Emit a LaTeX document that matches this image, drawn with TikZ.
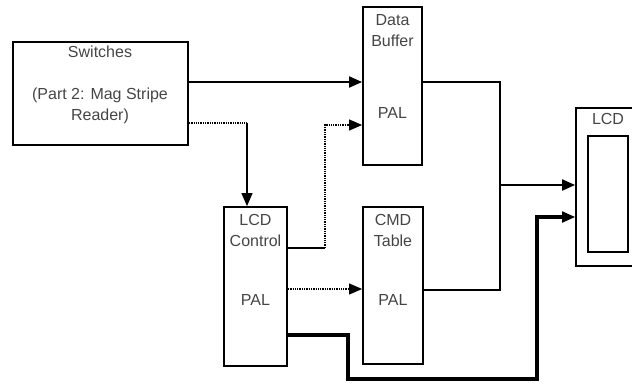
\documentclass[tikz,border=0pt]{standalone}
\usepackage{fontspec}
\setmainfont{Liberation Sans}
\usetikzlibrary{arrows.meta,calc}
\definecolor{txt}{HTML}{454545}
\begin{document}
\begin{tikzpicture}[x=1pt,y=-1pt,
  blk/.style={draw,line width=1.8pt,inner sep=0pt,minimum width=#1},
  lbl/.style={text=txt,font=\fontsize{16}{21}\selectfont,align=center,inner sep=0pt},
  tip/.style={-{Triangle[length=13pt,width=11pt]}},
  midline/.style={line width=2pt},
  thinline/.style={line width=1.1pt},
  dotline/.style={line width=1.3pt,densely dotted},
  heavy/.style={line width=4pt}]
\useasboundingbox (0,0) rectangle (632,383);
\clip (0,0) rectangle (632,383);
% boxes
\node[blk=175pt,minimum height=103pt] (sw) at (100.5,93.5) {};
\node[blk=59pt,minimum height=158pt] (db) at (392.5,86) {};
\node[blk=63pt,minimum height=159pt] (lc) at (255.5,286.5) {};
\node[blk=60pt,minimum height=157pt] (ct) at (393,285.5) {};
\node[blk=69pt,minimum height=158pt] (lcd) at (610.5,187) {};
\node[blk=40pt,minimum height=116pt] (lcdin) at (608,194) {};
% texts
\node[lbl] (swt) at (100,85) {Switches\\[21pt](Part 2: Mag Stripe\\Reader)};
\node[lbl] (dbt) at (392.5,31) {Data\\Buffer};
\node[lbl] (dbp) at (392.5,113) {PAL};
\node[lbl] (lct) at (255.5,230) {LCD\\Control};
\node[lbl] (lcp) at (255.5,300) {PAL};
\node[lbl] (ctt) at (393,230) {CMD\\Table};
\node[lbl] (ctp) at (393,300) {PAL};
\node[lbl] (lcdt) at (608,119) {LCD};
% coordinates
\coordinate (p1) at ([yshift=11.5pt]sw.east);
\coordinate (p2) at ([yshift=-29.5pt]sw.east);
\coordinate (p3) at ([xshift=-8.5pt]lc.north);
\coordinate (q1) at ([yshift=38.5pt]lc.east);
\coordinate (q2) at (325,248);
\coordinate (q3) at ([yshift=-39pt]db.west);
\coordinate (r1) at ([yshift=-2.5pt]lc.east);
\coordinate (s1) at ([yshift=-48.5pt]lc.east);
\coordinate (s2) at (348,335);
\coordinate (s3) at (348,379);
\coordinate (s4) at (537,379);
\coordinate (s5) at ([yshift=-30pt]lcd.west);
\coordinate (t1) at ([yshift=4pt]db.east);
\coordinate (t2) at (500,82);
\coordinate (t3) at ([yshift=-4.5pt]ct.east);
\coordinate (t4) at (500,185);
\coordinate (t5) at ([yshift=2pt]lcd.west);
% connectors
\draw[midline,tip] (p1) -- (p1 -| db.west);
\draw[dotline] (p2) -- (p2 -| p3);
\draw[thinline,tip] (p2 -| p3) -- (p3);
\draw[thinline] (q1) -- (q2);
\draw[dotline] (q2) -- (q2 |- q3) -- ([xshift=-10pt]q3);
\draw[thinline,tip] ([xshift=-14pt]q3) -- (q3);
\draw[dotline] (r1) -- ([xshift=-10pt]r1 -| ct.west);
\draw[thinline,tip] ([xshift=-14pt]r1 -| ct.west) -- (r1 -| ct.west);
\draw[heavy] (s1) -- (s2) -- (s3) -- (s4) -- (s4 |- s5) -- ([xshift=-12pt]s5);
\draw[midline,tip] ([xshift=-16pt]s5) -- (s5);
\draw[midline] (t1) -- (t2) -- (t2 |- t3) -- (t3);
\draw[midline,tip] (t4) -- (t5);
\end{tikzpicture}
\end{document}
